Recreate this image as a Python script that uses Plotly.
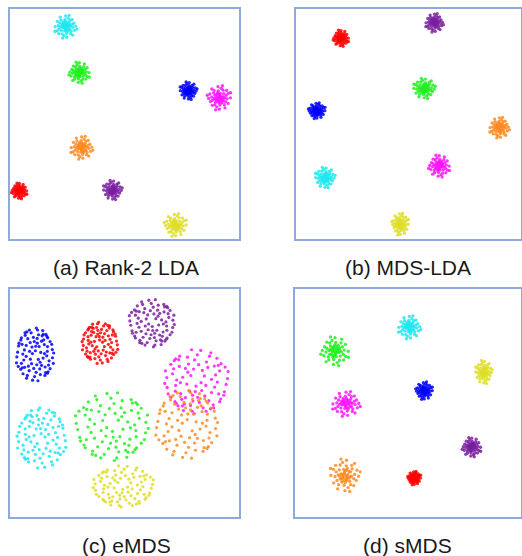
import plotly.graph_objects as go

# ---------------- data ----------------
panel_titles = ["(a) Rank-2 LDA", "(b) MDS-LDA", "(c) eMDS", "(d) sMDS"]

color_map = {
    "red": "#ff0000", "cyan": "#1ee6f0", "green": "#1ef01e", "blue": "#0000ff",
    "magenta": "#ff14ff", "orange": "#ff8a1e", "purple": "#7a1fa0", "yellow": "#dede28",
}

# cluster centres / spreads (axis units 0..1 in each panel)
a_names = ["cyan", "green", "blue", "magenta", "orange", "red", "purple", "yellow"]
a_cx = [0.243, 0.303, 0.779, 0.914, 0.313, 0.041, 0.448, 0.723]
a_cy = [0.923, 0.723, 0.645, 0.614, 0.397, 0.209, 0.213, 0.061]
a_rx = [0.052, 0.048, 0.040, 0.055, 0.052, 0.036, 0.044, 0.052]
a_ry = [0.052, 0.048, 0.040, 0.055, 0.052, 0.036, 0.044, 0.052]

b_names = ["purple", "red", "green", "blue", "orange", "magenta", "cyan", "yellow"]
b_cx = [0.615, 0.200, 0.570, 0.093, 0.904, 0.637, 0.129, 0.464]
b_cy = [0.940, 0.873, 0.655, 0.558, 0.484, 0.317, 0.267, 0.065]
b_rx = [0.042, 0.037, 0.052, 0.040, 0.047, 0.050, 0.047, 0.040]
b_ry = [0.042, 0.037, 0.046, 0.036, 0.047, 0.050, 0.047, 0.050]

c_names = ["blue", "red", "purple", "magenta", "orange", "cyan", "green", "yellow"]
c_cx = [0.109, 0.393, 0.619, 0.815, 0.771, 0.138, 0.444, 0.495]
c_cy = [0.712, 0.763, 0.851, 0.595, 0.405, 0.346, 0.398, 0.135]
c_rx = [0.087, 0.083, 0.105, 0.148, 0.144, 0.114, 0.170, 0.140]
c_ry = [0.123, 0.096, 0.110, 0.149, 0.158, 0.140, 0.158, 0.096]

d_names = ["cyan", "green", "yellow", "blue", "magenta", "purple", "orange", "red"]
d_cx = [0.506, 0.177, 0.835, 0.572, 0.226, 0.782, 0.221, 0.528]
d_cy = [0.832, 0.727, 0.636, 0.554, 0.496, 0.306, 0.183, 0.171]
d_rx = [0.053, 0.066, 0.040, 0.040, 0.066, 0.044, 0.071, 0.031]
d_ry = [0.053, 0.066, 0.053, 0.040, 0.057, 0.044, 0.075, 0.031]

# point offsets within a cluster (unit radius), read as cloud shapes
tight_dx = [0.05, -0.12, 0.18, -0.03, 0.22, -0.25, 0.1, -0.3, 0.35, -0.08, 0.4, -0.42, 0.02, 0.15, -0.2,
            0.3, -0.35, 0.45, -0.5, 0.55, -0.55, 0.08, -0.05, 0.6, -0.62, 0.35, -0.4, 0.42, -0.3, 0.7,
            -0.72, 0.2, -0.15, 0.75, -0.7, 0.55, -0.58, 0.85, -0.88, 0.0, 0.1, 0.6, -0.45, 0.95, -0.9,
            0.3, -0.25, 0.12, -0.15, 0.25, -0.22, 0.0, 0.05, -0.1, 0.15, -0.05, 0.32, -0.32, 0.08, -0.12]
tight_dy = [0.02, 0.08, -0.05, -0.15, 0.17, -0.08, 0.3, 0.22, -0.2, -0.35, 0.05, -0.02, 0.42, -0.4, 0.4,
            0.35, -0.32, -0.38, 0.3, 0.2, -0.2, -0.55, 0.58, -0.05, 0.08, 0.55, 0.55, -0.58, -0.6, 0.3,
            -0.35, 0.72, -0.75, -0.3, 0.45, 0.6, -0.58, 0.05, 0.0, 0.9, -0.88, -0.7, 0.8, -0.2, -0.4,
            0.95, -0.95, 0.15, -0.05, -0.22, 0.18, -0.25, 0.25, 0.15, 0.05, -0.08, 0.1, 0.05, -0.3, 0.32]

wide_dx = [-0.82, -0.64, 0.13, 0.71, -0.27, 0.44, -0.91, 0.06, 0.55, -0.49,
           0.87, -0.12, 0.33, -0.71, 0.21, -0.38, 0.66, -0.03, 0.92, -0.56,
           0.48, -0.19, 0.17, -0.72, 0.39, -0.44, 0.76, 0.02, -0.33, 0.50,
           -0.87, 0.27, -0.08, 0.63, -0.50, 0.09, 0.76, -0.23, 0.36, -0.68,
           0.12, -0.42, 0.94, -0.15, 0.51, -0.68, 0.29, -0.36, 0.64, -0.02,
           0.41, -0.61, 0.18, -0.29, 0.84, -0.52, 0.07, 0.59, -0.93, 0.24,
           -0.13, 0.47, -0.41, 0.62, -0.60, 0.33, -0.24, 0.62, -0.06, 0.15,
           -0.53, 0.88, -0.17, 0.42, -0.84, 0.04, 0.53, -0.28, 0.60, -0.65,
           0.26, -0.44, 0.11, -0.80, 0.68]
wide_dy = [0.31, -0.47, 0.88, -0.22, 0.12, 0.53, -0.08, -0.63, 0.72, 0.69,
           0.18, -0.91, -0.38, 0.52, 0.29, -0.74, -0.61, 0.47, -0.31, -0.19,
           0.04, 0.78, -0.17, -0.52, 0.86, 0.33, 0.47, 0.14, -0.41, -0.74,
           0.09, -0.71, 0.62, 0.29, 0.78, -0.36, -0.50, -0.16, 0.67, -0.31,
           0.41, -0.84, 0.06, 0.27, -0.44, 0.60, 0.08, 0.57, 0.60, -0.78,
           -0.12, 0.02, 0.71, -0.57, 0.37, -0.45, 0.95, -0.04, -0.29, -0.51,
           0.04, 0.36, 0.81, -0.66, -0.68, 0.48, 0.43, 0.12, -0.49, -0.93,
           0.17, -0.11, -0.32, 0.72, -0.42, 0.3, -0.64, 0.88, 0.65, 0.37,
           -0.27, -0.06, 0.58, 0.41, -0.37]

panels = [
    (a_names, a_cx, a_cy, a_rx, a_ry, "tight"),
    (b_names, b_cx, b_cy, b_rx, b_ry, "tight"),
    (c_names, c_cx, c_cy, c_rx, c_ry, "wide"),
    (d_names, d_cx, d_cy, d_rx, d_ry, "tight"),
]

# ---------------- figure ----------------
W, H = 522, 556
boxes = [  # left, top, right, bottom in pixels
    (10, 9, 239, 239),
    (296, 9, 521, 239),
    (10, 289, 239, 517),
    (295, 289, 521, 517),
]
caption_xy = [(126, 267), (408, 267), (126, 545), (407, 545)]

fig = go.Figure()
layout = dict(width=W, height=H, margin=dict(l=0, r=0, t=0, b=0),
              paper_bgcolor="white", plot_bgcolor="white", showlegend=False)

for i, (names, cx, cy, rx, ry, kind) in enumerate(panels):
    n = "" if i == 0 else str(i + 1)
    dx, dy = (tight_dx, tight_dy) if kind == "tight" else (wide_dx, wide_dy)
    for k, name in enumerate(names):
        sx = 1 if k % 2 == 0 else -1
        sy = 1 if (k // 2) % 2 == 0 else -1
        xs = [cx[k] + sx * rx[k] * v for v in dx]
        ys = [cy[k] + sy * ry[k] * v for v in dy]
        fig.add_trace(go.Scatter(
            x=xs, y=ys, mode="markers", xaxis="x" + n, yaxis="y" + n,
            marker=dict(size=3.3 if kind == "tight" else 3.2, color=color_map[name],
                        opacity=0.85, line=dict(width=0)),
            hoverinfo="skip"))
    l, t, r, b = boxes[i]
    ax = dict(domain=[l / W, r / W], range=[0, 1], showgrid=False, zeroline=False,
              showticklabels=False, ticks="", showline=True, mirror=True,
              linecolor="#8eaadb", linewidth=1.5, fixedrange=True)
    ay = dict(domain=[1 - b / H, 1 - t / H], range=[0, 1], showgrid=False, zeroline=False,
              showticklabels=False, ticks="", showline=True, mirror=True,
              linecolor="#8eaadb", linewidth=1.5, fixedrange=True)
    if i > 0:
        ax["anchor"] = "y" + n
        ay["anchor"] = "x" + n
    layout["xaxis" + n] = ax
    layout["yaxis" + n] = ay

annotations = []
for (px, py), txt in zip(caption_xy, panel_titles):
    annotations.append(dict(x=px / W, y=1 - py / H, xref="paper", yref="paper",
                            text=txt, showarrow=False, xanchor="center", yanchor="middle",
                            font=dict(family="Liberation Sans, Arial", size=21, color="#1a1a1a")))
layout["annotations"] = annotations
fig.update_layout(**layout)
fig.write_html("out.html", config={"displayModeBar": False},
               post_script="document.body.style.margin='0';document.body.style.overflow='hidden';")
